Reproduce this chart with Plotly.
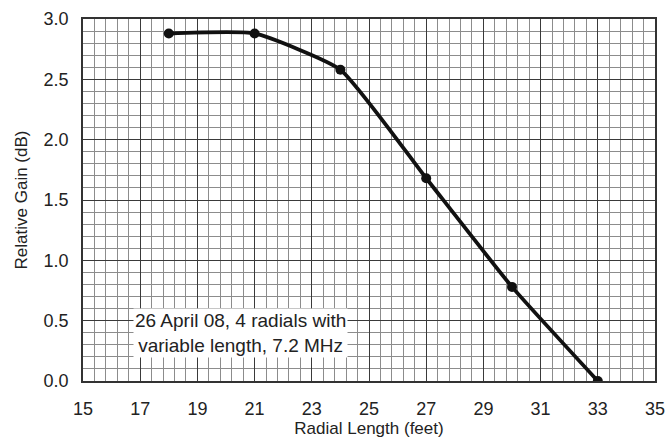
import plotly.graph_objs as go

radial_len = [18, 21, 24, 27, 30, 33]
rel_gain = [2.88, 2.88, 2.58, 1.68, 0.78, 0.0]

x_ticks = [15, 17, 19, 21, 23, 25, 27, 29, 31, 33, 35]
y_ticks = [0.0, 0.5, 1.0, 1.5, 2.0, 2.5, 3.0]

note = "26 April 08, 4 radials with<br>variable length, 7.2 MHz"

font = "Liberation Sans, Arial, sans-serif"

trace = go.Scatter(x=radial_len, y=rel_gain, mode="lines+markers",
                   line={"color": "#111", "width": 3.8, "shape": "spline", "smoothing": 0.45},
                   marker={"color": "#111", "size": 10},
                   showlegend=False)

fig = go.Figure([trace])
fig.update_layout({"width": 666, "height": 439,
                   "margin": {"l": 83, "r": 11, "t": 19, "b": 58},
                   "paper_bgcolor": "white", "plot_bgcolor": "white",
                   "font": {"family": font, "color": "#222", "size": 18}})

fig.update_xaxes({"range": [15, 35], "tickvals": x_ticks,
                  "ticktext": [str(t) for t in x_ticks],
                  "showgrid": True, "gridcolor": "#3a3a3a", "gridwidth": 1,
                  "minor": {"tick0": 15, "dtick": 0.4, "showgrid": True,
                            "gridcolor": "#8c8c8c", "gridwidth": 1},
                  "showline": True, "linecolor": "#333", "linewidth": 1.5, "mirror": True,
                  "zeroline": False, "ticks": "", "ticklabelstandoff": 11,
                  "ticklabeloverflow": "allow", "automargin": False,
                  "title": {"text": "Radial Length (feet)", "font": {"size": 17}, "standoff": 4}})

fig.update_yaxes({"range": [0, 3], "tickvals": y_ticks,
                  "ticktext": ["%.1f" % t for t in y_ticks],
                  "showgrid": True, "gridcolor": "#3a3a3a", "gridwidth": 1,
                  "minor": {"tick0": 0, "dtick": 0.1, "showgrid": True,
                            "gridcolor": "#8c8c8c", "gridwidth": 1},
                  "showline": True, "linecolor": "#333", "linewidth": 1.5, "mirror": True,
                  "zeroline": False, "ticks": "", "ticklabelstandoff": 9,
                  "automargin": False,
                  "title": {"text": "Relative Gain (dB)", "font": {"size": 17}, "standoff": 12}})

fig.add_annotation(x=20.5, y=0.40, text=note, showarrow=False,
                   font={"size": 19, "color": "#222", "family": font},
                   bgcolor="white", borderpad=1, align="center")

# drop the default body margin so the figure fills the window exactly
fig.write_html("out.html", config={"displayModeBar": False},
               post_script="document.body.style.margin='0';")
